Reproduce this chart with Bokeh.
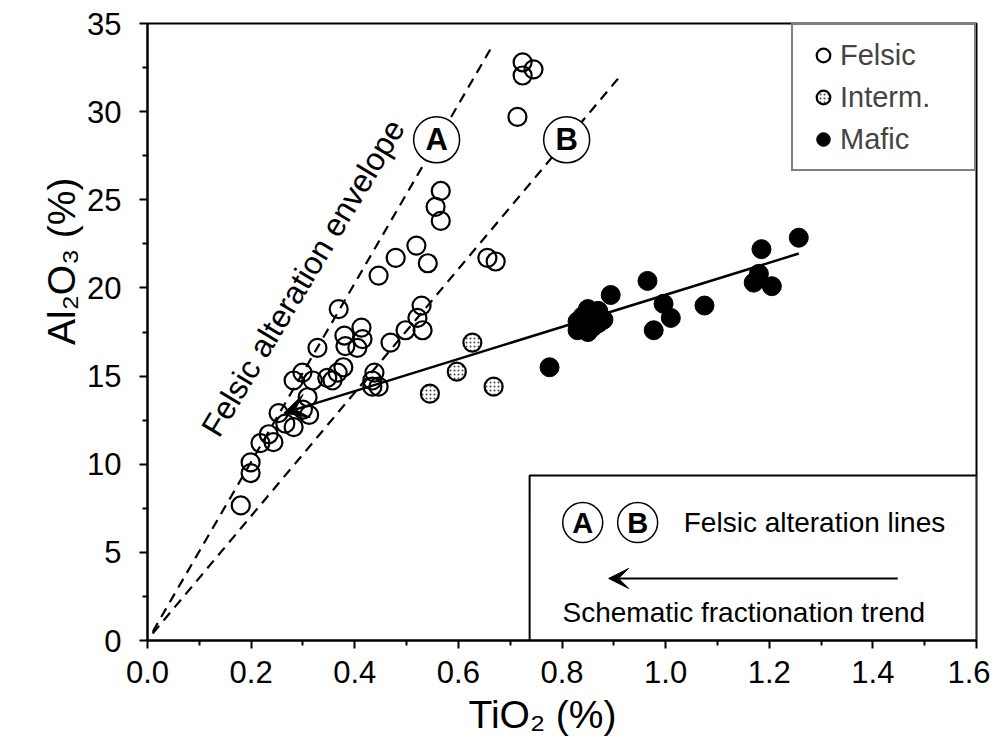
from bokeh.plotting import figure
from bokeh.models import (Range1d, FixedTicker, Label, Legend, LegendItem, Arrow, VeeHead,
                          PrintfTickFormatter, Title)
from bokeh.core.properties import value
from bokeh.embed import file_html
from bokeh.resources import INLINE
import math

# ---------------- data ----------------
felsic_tio2 = [0.724, 0.745, 0.724, 0.714, 0.566, 0.556, 0.566, 0.519, 0.479, 0.446,
               0.541, 0.656, 0.672, 0.529, 0.521, 0.531, 0.498, 0.469, 0.369, 0.328,
               0.380, 0.382, 0.413, 0.415, 0.405, 0.438, 0.434, 0.446, 0.434, 0.282,
               0.299, 0.319, 0.347, 0.367, 0.357, 0.378, 0.309, 0.253, 0.266, 0.282,
               0.234, 0.218, 0.243, 0.199, 0.199, 0.180, 0.300, 0.312]
felsic_al2o3 = [32.8, 32.4, 32.05, 29.7, 25.5, 24.6, 23.8, 22.4, 21.7, 20.7,
                21.4, 21.7, 21.5, 19.0, 18.3, 17.6, 17.6, 16.9, 18.8, 16.6,
                17.3, 16.7, 17.75, 17.1, 16.6, 15.2, 14.75, 14.4, 14.4, 14.75,
                15.2, 14.75, 14.9, 15.2, 14.75, 15.5, 13.8, 12.9, 12.3, 12.1,
                11.7, 11.2, 11.25, 10.1, 9.5, 7.66, 13.1, 12.8]

interm_tio2 = [0.627, 0.597, 0.545, 0.668]
interm_al2o3 = [16.9, 15.25, 14.0, 14.4]

mafic_tio2 = [0.776, 0.83, 0.84, 0.84, 0.85, 0.86, 0.86, 0.87, 0.88, 0.85, 0.83, 0.87,
              0.894, 0.965, 0.996, 1.01, 0.977, 1.075, 1.185, 1.257, 1.180, 1.170, 1.205]
mafic_al2o3 = [15.5, 17.6, 18.0, 18.4, 18.8, 17.8, 18.3, 18.7, 18.2, 17.5, 18.1, 18.0,
               19.6, 20.4, 19.1, 18.3, 17.6, 19.0, 22.2, 22.85, 20.8, 20.3, 20.1]

line_a_tio2 = [0.01, 0.665]
line_a_al2o3 = [0.5, 33.7]
line_b_tio2 = [0.01, 0.909]
line_b_al2o3 = [0.4, 31.9]

trend_tio2 = [1.257, 0.263]
trend_al2o3 = [21.95, 12.9]

circle_names = ["A", "B"]
circle_tio2 = [0.558, 0.809]
circle_al2o3 = [28.4, 28.4]

key_tio2 = [0.840, 0.946]
key_al2o3 = [6.69, 6.69]

x_ticks = [0.0, 0.2, 0.4, 0.6, 0.8, 1.0, 1.2, 1.4, 1.6]
x_minor = [0.1, 0.3, 0.5, 0.7, 0.9, 1.1, 1.3, 1.5]
y_ticks = [0, 5, 10, 15, 20, 25, 30, 35]
y_minor = [2.5, 7.5, 12.5, 17.5, 22.5, 27.5, 32.5]

FONT = "Liberation Sans"

p = figure(width=990, height=745, output_backend="svg", toolbar_location=None,
           x_range=Range1d(0, 1.6), y_range=Range1d(0, 35),
           min_border_left=147, min_border_right=14, min_border_top=23, min_border_bottom=105)
p.grid.visible = False
p.outline_line_color = "black"
p.outline_line_width = 2
p.background_fill_color = "white"

for ax in (p.xaxis[0], p.yaxis[0]):
    ax.axis_line_width = 2
    ax.axis_line_color = "black"
    ax.major_tick_in = 0
    ax.major_tick_out = 8
    ax.minor_tick_in = 0
    ax.minor_tick_out = 5
    ax.major_tick_line_width = 2
    ax.minor_tick_line_width = 2
    ax.major_label_text_font = FONT
    ax.major_label_text_font_size = "31px"
    ax.major_label_text_color = "black"

p.xaxis.ticker = FixedTicker(ticks=x_ticks, minor_ticks=x_minor)
p.yaxis.ticker = FixedTicker(ticks=y_ticks, minor_ticks=y_minor)
p.xaxis.formatter = PrintfTickFormatter(format="%.1f")
p.xaxis.major_label_standoff = 12
p.yaxis.major_label_standoff = 18

# lower-right key box
p.quad(left=[0.7375], right=[1.6], bottom=[0], top=[9.36], fill_color="white",
       line_color="black", line_width=2)

# dashed alteration lines
p.line(line_a_tio2, line_a_al2o3, line_color="black", line_width=2.2, line_dash="10 7")
p.line(line_b_tio2, line_b_al2o3, line_color="black", line_width=2.2, line_dash="10 7")

# circled labels on lines
p.scatter(circle_tio2, circle_al2o3, marker="circle", size=46, fill_color="white",
          line_color="black", line_width=1.5)
p.text(circle_tio2, circle_al2o3, text=circle_names, text_font=value(FONT),
       text_font_style="bold", text_font_size="31px", text_align="center",
       text_baseline="middle", text_color="black")

# data
r_fel = p.scatter(felsic_tio2, felsic_al2o3, marker="circle", size=18, fill_alpha=0,
                  line_color="black", line_width=2.2)
r_int = p.scatter(interm_tio2, interm_al2o3, marker="circle", size=18, fill_color="white",
                  line_color="black", line_width=2.2, hatch_pattern="dot",
                  hatch_color="#444444", hatch_scale=4, hatch_weight=1.6)
r_maf = p.scatter(mafic_tio2, mafic_al2o3, marker="circle", size=19, fill_color="black",
                  line_color="black", line_width=1)

# fractionation trend arrow
p.add_layout(Arrow(end=VeeHead(size=24, fill_color="black", line_color="black"),
                   x_start=trend_tio2[0], y_start=trend_al2o3[0],
                   x_end=trend_tio2[1], y_end=trend_al2o3[1],
                   line_width=2.5, line_color="black"))

# key contents
p.scatter(key_tio2, key_al2o3, marker="circle", size=40, fill_color="white",
          line_color="black", line_width=1.5)
p.text(key_tio2, key_al2o3, text=circle_names, text_font=value(FONT),
       text_font_style="bold", text_font_size="29px", text_align="center",
       text_baseline="middle", text_color="black")
p.add_layout(Label(x=1.035, y=6.69, text="Felsic alteration lines", text_font=FONT,
                   text_font_size="28px", text_baseline="middle", text_color="black"))
p.add_layout(Arrow(end=VeeHead(size=20, fill_color="black", line_color="black"),
                   x_start=1.448, y_start=3.52, x_end=0.890, y_end=3.52,
                   line_width=2, line_color="black"))
p.add_layout(Label(x=0.801, y=1.59, text="Schematic fractionation trend", text_font=FONT,
                   text_font_size="28px", text_baseline="middle", text_color="black"))

# envelope text
p.add_layout(Label(x=0.30, y=20.57, text="Felsic alteration envelope", text_font=FONT,
                   text_font_size="32px", text_align="center", text_baseline="middle",
                   angle=math.radians(59), text_color="black"))

# axis labels as side titles (positioned along the axis)
p.add_layout(Title(text="Al\u2082O\u2083 (%)", align="right", offset=154,
                   text_font=FONT, text_font_size="39px", text_font_style="normal",
                   text_color="black", standoff=4), "left")
p.add_layout(Title(text="TiO\u2082 (%)", align="left", offset=321,
                   text_font=FONT, text_font_size="39px", text_font_style="normal",
                   text_color="black", standoff=10), "below")

legend = Legend(items=[LegendItem(label="Felsic", renderers=[r_fel]),
                       LegendItem(label="Interm.", renderers=[r_int]),
                       LegendItem(label="Mafic", renderers=[r_maf])],
                location="top_right", margin=0, padding=13, spacing=8,
                glyph_width=34, glyph_height=34, label_standoff=0, label_width=121,
                label_text_font=FONT, label_text_font_size="29px",
                border_line_color="black", border_line_width=2,
                background_fill_color="white", background_fill_alpha=1)
p.add_layout(legend)

open("out.html", "w").write(file_html(p, INLINE))
